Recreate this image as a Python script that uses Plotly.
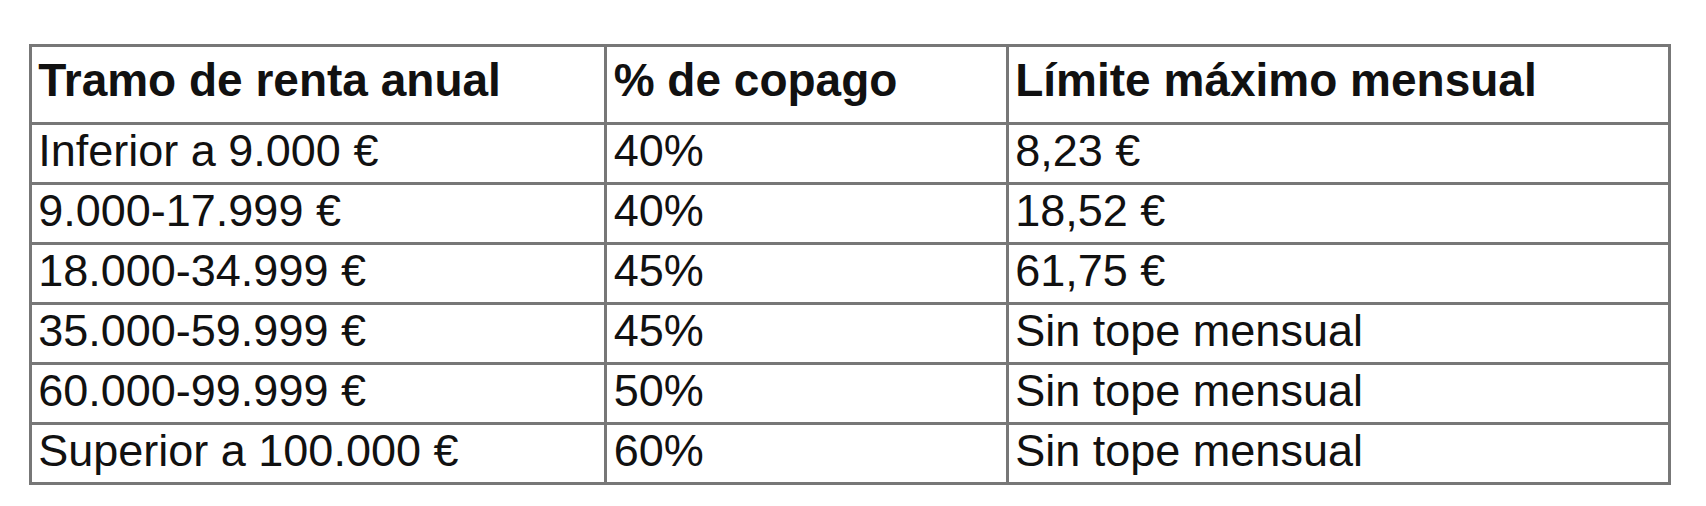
import plotly.graph_objects as go

cabecera = ["<b>Tramo de renta anual</b>", "<b>% de copago</b>", "<b>Límite máximo mensual</b>"]
tramos = ["Inferior a 9.000 €", "9.000-17.999 €", "18.000-34.999 €",
          "35.000-59.999 €", "60.000-99.999 €", "Superior a 100.000 €"]
copago = ["40%", "40%", "45%", "45%", "50%", "60%"]
limite = ["8,23 €", "18,52 €", "61,75 €", "Sin tope mensual", "Sin tope mensual", "Sin tope mensual"]

fuente = "Liberation Sans Narrow, Liberation Sans, Arial Narrow, sans-serif"

fig = go.Figure(go.Table(
    domain=dict(x=[0.013, 0.974], y=[0.0, 0.925]),
    columnwidth=[526, 367, 605],
    header=dict(values=cabecera, align="left", height=78,
                fill_color="white", line=dict(color="#777", width=3),
                font=dict(family=fuente, size=46, color="#111")),
    cells=dict(values=[tramos, copago, limite], align="left", height=60,
               fill_color="white", line=dict(color="#777", width=3),
               font=dict(family=fuente, size=45, color="#111")),
))
fig.update_layout(width=1706, height=506, margin=dict(l=0, r=0, t=0, b=0),
                  paper_bgcolor="white")
fig.write_html("out.html")
